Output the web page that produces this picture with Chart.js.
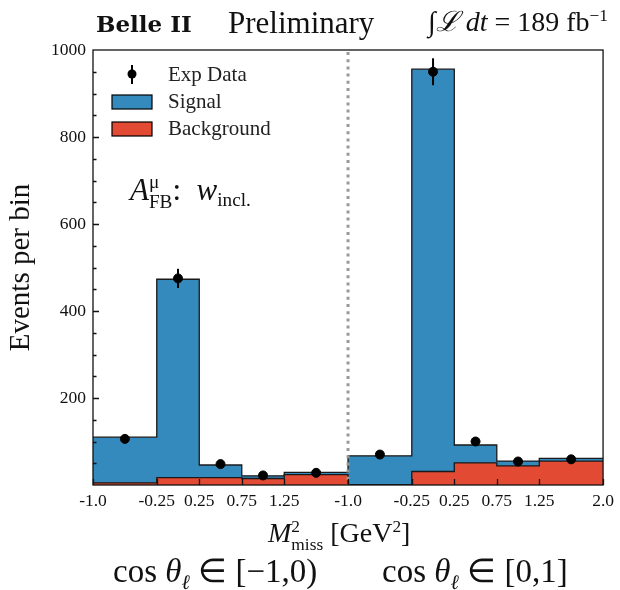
<!DOCTYPE html>
<html>
<head>
<meta charset="utf-8">
<script src="https://cdn.jsdelivr.net/npm/chart.js@4.4.1/dist/chart.umd.min.js"></script>
<style>
  body { margin: 0; background: #fff; }
  #wrap { position: relative; width: 620px; height: 590px; font-family: 'Liberation Serif', serif; color: #111; }
  .lbl { position: absolute; white-space: nowrap; line-height: 1; }
  .ss { display: inline-block; vertical-align: -0.45em; font-size: 0.62em; line-height: 1.05; text-align: left; }
  .ss span { display: block; }
  sub { font-size: 0.62em; vertical-align: -0.35em; }
  sup { font-size: 0.62em; vertical-align: 0.6em; }
</style>
</head>
<body>
<div id="wrap">
  <canvas id="myChart" width="620" height="590"></canvas>
  <div class="lbl" style="left:96px;top:12px;font-size:23px;font-weight:bold;font-family:'DejaVu Serif',serif;">Belle II</div>
  <div class="lbl" style="left:228px;top:7px;font-size:31px;">Preliminary</div>
  <div class="lbl" style="left:428px;top:7px;font-size:28px;"><i>∫ℒ dt</i> = 189 fb<sup>−1</sup></div>
  <div class="lbl" style="left:130px;top:172px;font-size:31px;"><i>A</i><span class="ss"><span>μ</span><span>FB</span></span>: &nbsp;<i>w</i><sub>incl.</sub></div>
  <div class="lbl" style="left:268px;top:518px;font-size:28px;"><i>M</i><span class="ss"><span>2</span><span>miss</span></span> [GeV<sup>2</sup>]</div>
  <div class="lbl" style="left:113px;top:555px;font-size:33px;">cos <i>θ</i><sub><i>ℓ</i></sub> ∈ [−1,0)</div>
  <div class="lbl" style="left:382px;top:555px;font-size:33px;">cos <i>θ</i><sub><i>ℓ</i></sub> ∈ [0,1]</div>
</div>
<script>
// M_miss^2 bin edges (same for both cos(theta) halves)
const binEdges = [-1.0, -0.25, 0.25, 0.75, 1.25, 2.0];
const tickLabels = ['-1.0', '-0.25', '0.25', '0.75', '1.25', '-1.0', '-0.25', '0.25', '0.75', '1.25', '2.0'];
const yTicks = [200, 400, 600, 800, 1000];

// cos theta in [-1,0)
const signalNeg = [105, 456, 29, 6, 5];
const backgroundNeg = [5, 17, 17, 15, 24];
const dataNeg = [106, 475, 48, 22, 28];
const errNeg = [10, 22, 7, 5, 5];

// cos theta in [0,1]
const signalPos = [66, 925, 41, 11, 6];
const backgroundPos = [1, 31, 51, 44, 55];
const dataPos = [70, 950, 100, 54, 59];
const errPos = [8, 31, 10, 7, 8];

const FONT = "'Liberation Serif', serif";
const halfWidth = binEdges[binEdges.length - 1] - binEdges[0];

// put the two halves side by side on one linear axis
function xPos(half, v) {
  return half * halfWidth + v - binEdges[0];
}

var xTickPos = [];
[0, 1].forEach(function(h) {
  binEdges.forEach(function(e, i) {
    if (h == 0 && i == binEdges.length - 1) return; // shared with start of 2nd half
    xTickPos.push(xPos(h, e));
  });
});

function stepPoints(neg, pos) {
  var pts = [];
  [neg, pos].forEach(function(vals, h) {
    vals.forEach(function(v, i) { pts.push({x: xPos(h, binEdges[i]), y: v}); });
  });
  pts.push({x: xPos(1, binEdges[binEdges.length - 1]), y: pos[pos.length - 1]});
  return pts;
}

function centerPoints(neg, pos) {
  var pts = [];
  [neg, pos].forEach(function(vals, h) {
    vals.forEach(function(v, i) {
      pts.push({x: xPos(h, (binEdges[i] + binEdges[i + 1]) / 2), y: v});
    });
  });
  return pts;
}

var totalNeg = signalNeg.map(function(s, i) { return s + backgroundNeg[i]; });
var totalPos = signalPos.map(function(s, i) { return s + backgroundPos[i]; });
var errors = errNeg.concat(errPos);

var histExtras = {
  id: 'histExtras',
  afterDatasetsDraw: function(chart) {
    var c = chart.ctx, a = chart.chartArea;
    var xs = chart.scales.x, ys = chart.scales.y;
    c.save();
    // separator between the two halves
    c.strokeStyle = '#999';
    c.lineWidth = 3;
    c.setLineDash([3, 4.2]);
    c.beginPath();
    c.moveTo(xs.getPixelForValue(halfWidth), a.top + 2);
    c.lineTo(xs.getPixelForValue(halfWidth), a.bottom);
    c.stroke();
    c.setLineDash([]);

    // error bars
    var pts = chart.data.datasets[0].data;
    c.strokeStyle = '#000';
    c.lineWidth = 2;
    pts.forEach(function(p, i) {
      var px = xs.getPixelForValue(p.x);
      c.beginPath();
      c.moveTo(px, ys.getPixelForValue(p.y - errors[i]));
      c.lineTo(px, ys.getPixelForValue(p.y + errors[i]));
      c.stroke();
    });

    // frame + inward ticks
    c.lineWidth = 1.3;
    c.strokeStyle = '#111';
    c.strokeRect(a.left, a.top, a.right - a.left, a.bottom - a.top);
    c.beginPath();
    for (var v = 50; v < 1000; v += 50) {
      var py = Math.round(ys.getPixelForValue(v)) + 0.5;
      c.moveTo(a.left, py);
      c.lineTo(a.left + (v % 200 == 0 ? 6 : 3.5), py);
    }
    xTickPos.forEach(function(t) {
      var px = Math.round(xs.getPixelForValue(t)) + 0.5;
      c.moveTo(px, a.bottom);
      c.lineTo(px, a.bottom - 6);
    });
    c.stroke();
    c.restore();
  },
  afterDraw: function(chart) {
    var c = chart.ctx;
    c.save();
    // legend
    c.fillStyle = '#000';
    c.strokeStyle = '#000';
    c.lineWidth = 2;
    c.beginPath();
    c.moveTo(132, 65); c.lineTo(132, 84);
    c.stroke();
    c.beginPath();
    c.arc(132, 74, 4.5, 0, Math.PI * 2);
    c.fill();
    c.lineWidth = 1.2;
    c.fillStyle = '#348ABD';
    c.fillRect(112, 95, 40, 14); c.strokeRect(112, 95, 40, 14);
    c.fillStyle = '#E24A33';
    c.fillRect(112, 122, 40, 14); c.strokeRect(112, 122, 40, 14);
    c.fillStyle = '#222';
    c.font = '21px ' + FONT;
    c.textBaseline = 'middle';
    c.fillText('Exp Data', 168, 75);
    c.fillText('Signal', 168, 102);
    c.fillText('Background', 168, 129);
    c.restore();
  }
};

const ctx = document.getElementById('myChart');
new Chart(ctx, {
  type: 'line',
  data: {
    datasets: [{
      label: 'Exp Data',
      type: 'scatter',
      data: centerPoints(dataNeg, dataPos),
      pointRadius: 4.5,
      backgroundColor: '#000',
      borderColor: '#000',
      order: 0
    }, {
      label: 'Background',
      data: stepPoints(backgroundNeg, backgroundPos),
      stepped: 'before',
      fill: 'origin',
      backgroundColor: '#E24A33',
      borderColor: '#1a1a1a',
      borderWidth: 1.3,
      pointRadius: 0,
      order: 1
    }, {
      label: 'Signal',
      data: stepPoints(totalNeg, totalPos),
      stepped: 'before',
      fill: 'origin',
      backgroundColor: '#348ABD',
      borderColor: '#1a1a1a',
      borderWidth: 1.3,
      pointRadius: 0,
      order: 2
    }]
  },
  options: {
    responsive: false,
    animation: false,
    layout: { padding: { top: 50, right: 13, left: 0, bottom: 0 } },
    plugins: { legend: { display: false }, tooltip: { enabled: false } },
    scales: {
      x: {
        type: 'linear',
        min: 0,
        max: 2 * halfWidth,
        grid: { display: false, drawTicks: false },
        border: { display: false },
        afterFit: function(s) { s.height = 105; },
        afterBuildTicks: function(s) { s.ticks = xTickPos.map(function(v) { return {value: v}; }); },
        ticks: {
          autoSkip: false,
          maxRotation: 0,
          padding: 6,
          color: '#111',
          font: { family: FONT, size: 17.5 },
          callback: function(v, i) { return tickLabels[i]; }
        }
      },
      y: {
        min: 0,
        max: 1000,
        grid: { display: false, drawTicks: false },
        border: { display: false },
        afterFit: function(s) { s.width = 93; },
        afterBuildTicks: function(s) { s.ticks = yTicks.map(function(v) { return {value: v}; }); },
        ticks: {
          padding: 7,
          color: '#111',
          font: { family: FONT, size: 17.5 },
          callback: function(v) { return String(v); }
        },
        title: {
          display: true,
          text: 'Events per bin',
          color: '#111',
          font: { family: FONT, size: 29 },
          padding: { top: 4, bottom: 0 }
        }
      }
    }
  },
  plugins: [histExtras]
});
</script>
</body>
</html>
